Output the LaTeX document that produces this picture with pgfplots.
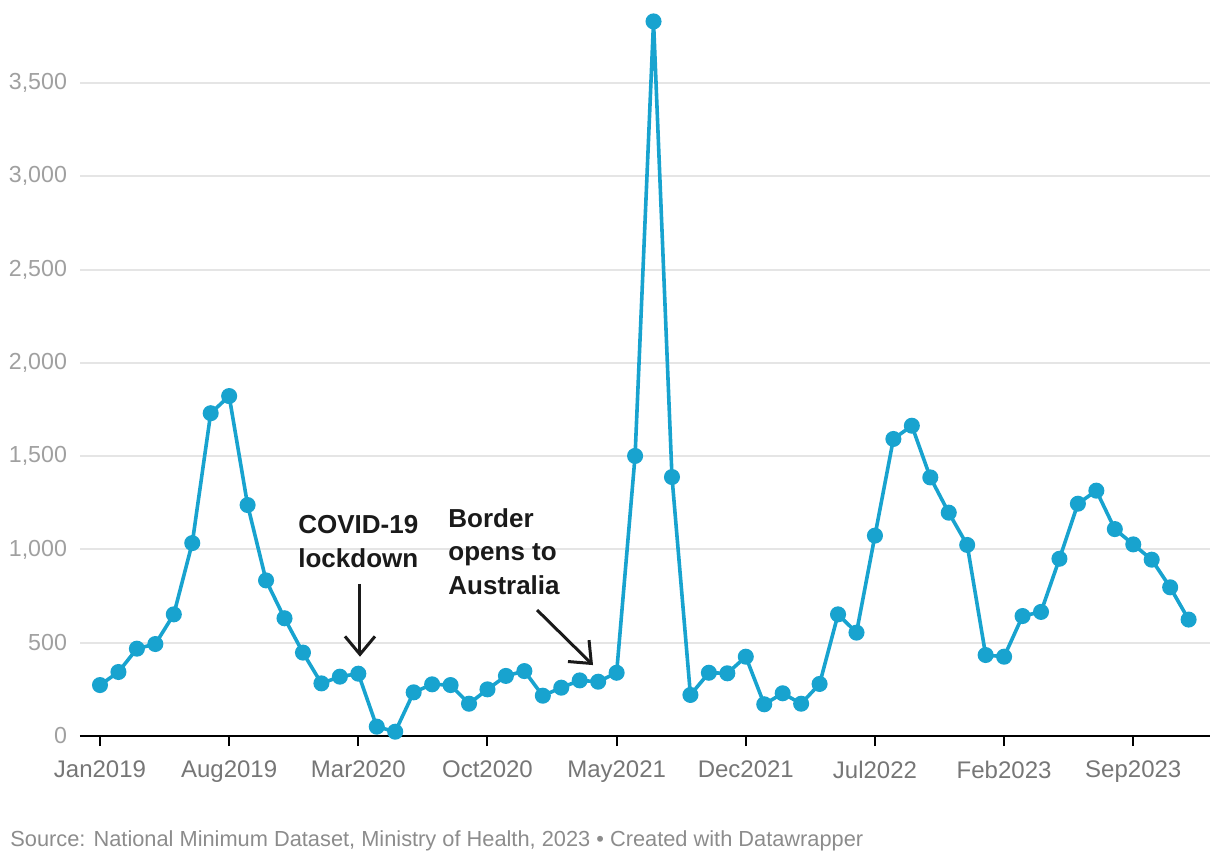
\documentclass[border=0pt]{standalone}
\usepackage{pgfplots}
\pgfplotsset{compat=1.18}
\usepackage{pgfplotstable}
\usepackage{fontspec}
\setmainfont{Liberation Sans}
\usetikzlibrary{arrows.meta}

\definecolor{lineblue}{RGB}{24,163,207}
\definecolor{gridgray}{RGB}{229,229,229}
\definecolor{ylab}{RGB}{160,160,160}
\definecolor{xlab}{RGB}{118,118,118}
\definecolor{srcgray}{RGB}{140,140,140}
\definecolor{annot}{RGB}{26,26,26}

% monthly values, Jan 2019 = 0
\pgfplotstableread{
m v
0 273
1 343
2 468
3 493
4 652
5 1034
6 1730
7 1822
8 1238
9 834
10 631
11 447
12 282
13 318
14 334
15 50
16 23
17 234
18 277
19 273
20 173
21 250
22 322
23 348
24 216
25 259
26 298
27 291
28 339
29 1501
30 3830
31 1388
32 220
33 339
34 336
35 425
36 170
37 229
38 173
39 279
40 652
41 554
42 1074
43 1592
44 1663
45 1386
46 1197
47 1024
48 434
49 425
50 643
51 665
52 950
53 1245
54 1315
55 1109
56 1027
57 945
58 797
59 624
}\cases

\begin{document}
\begin{tikzpicture}
\path[use as bounding box] (-40pt,-63pt) rectangle (570pt,368pt);
\begin{axis}[
  at={(0,0)}, anchor=south west,
  scale only axis,
  width=565pt, height=359.15pt,
  xmin=-1.084, xmax=60.16,
  ymin=0, ymax=3850,
  clip=false,
  axis x line*=bottom, axis y line*=left,
  x axis line style={-, black, line width=1.2pt},
  y axis line style={draw=none},
  xtick={0,7,14,21,28,35,42,49,56},
  xticklabels={Jan2019,Aug2019,Mar2020,Oct2020,May2021,Dec2021,Jul2022,Feb2023,Sep2023},
  ytick={0,500,1000,1500,2000,2500,3000,3500},
  tick align=outside,
  xtick style={black, line width=1pt},
  ytick style={draw=none},
  major tick length=5pt,
  ymajorgrids,
  major grid style={gridgray, line width=1pt},
  yticklabel style={font=\fontsize{11.6}{13}\selectfont, text=ylab, anchor=east, xshift=2pt},
  xticklabel style={font=\fontsize{12}{14}\selectfont, text=xlab, yshift=-4pt},
  /pgf/number format/.cd, 1000 sep={,}, assume math mode=true,
]
\addplot[lineblue, line width=1.8pt, mark=*, mark size=3.1pt, mark options={fill=lineblue, draw=none}] table[x=m, y=v] {\cases};

% annotations
\node[anchor=base west, font=\fontsize{13}{15}\bfseries, text=annot, inner sep=0] at (axis cs:10.73,1084) {COVID-19};
\node[anchor=base west, font=\fontsize{13}{15}\bfseries, text=annot, inner sep=0] at (axis cs:10.73,902) {lockdown};
\draw[annot, line width=1.5pt, -{Straight Barb[length=9pt, width=15pt, line width=1.5pt]}] (axis cs:14.09,815) -- (axis cs:14.09,425);

\node[anchor=base west, font=\fontsize{13}{15}\bfseries, text=annot, inner sep=0] at (axis cs:18.86,1120) {Border};
\node[anchor=base west, font=\fontsize{13}{15}\bfseries, text=annot, inner sep=0] at (axis cs:18.86,938) {opens to};
\node[anchor=base west, font=\fontsize{13}{15}\bfseries, text=annot, inner sep=0] at (axis cs:18.86,756) {Australia};
\draw[annot, line width=1.5pt, -{Straight Barb[length=9pt, width=15pt, line width=1.5pt]}] (axis cs:23.69,675) -- (axis cs:26.72,380);
\end{axis}
\node[anchor=base west, font=\fontsize{10.9}{12}\selectfont, text=srcgray, inner sep=0] at (-35pt,-55pt) {Source: National Minimum Dataset, Ministry of Health, 2023 • Created with Datawrapper};
\end{tikzpicture}
\end{document}
